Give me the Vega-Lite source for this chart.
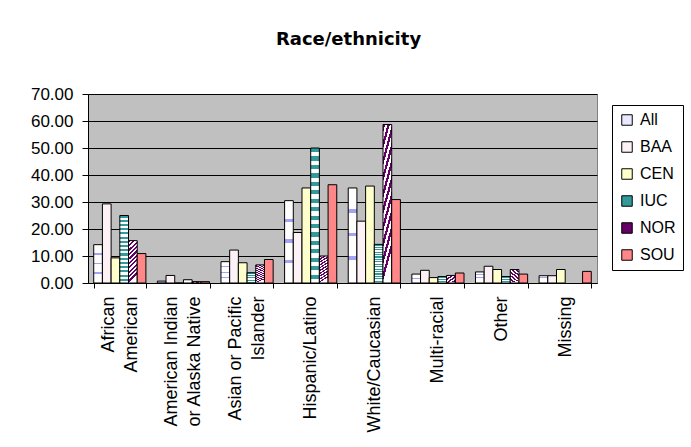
{
  "$schema": "https://vega.github.io/schema/vega-lite/v6.json",
  "width": 509,
  "height": 189,
  "autosize": "none",
  "padding": {"left": 88, "top": 94, "right": 94, "bottom": 164},
  "background": "white",
  "title": {
    "text": "Race/ethnicity",
    "font": "DejaVu Sans",
    "fontSize": 18,
    "fontWeight": "bold",
    "color": "black",
    "anchor": "middle",
    "frame": "group",
    "baseline": "alphabetic",
    "offset": 22,
    "dx": 6
  },
  "data": {
    "values": [
      {"group": "African American", "series": "All", "value": 14.2},
      {"group": "African American", "series": "BAA", "value": 29.3},
      {"group": "African American", "series": "CEN", "value": 9.3},
      {"group": "African American", "series": "IUC", "value": 25.0},
      {"group": "African American", "series": "NOR", "value": 15.7},
      {"group": "African American", "series": "SOU", "value": 10.9},
      {"group": "American Indian or Alaska Native", "series": "All", "value": 0.7},
      {"group": "American Indian or Alaska Native", "series": "BAA", "value": 2.8},
      {"group": "American Indian or Alaska Native", "series": "CEN", "value": 0.0},
      {"group": "American Indian or Alaska Native", "series": "IUC", "value": 1.2},
      {"group": "American Indian or Alaska Native", "series": "NOR", "value": 0.5},
      {"group": "American Indian or Alaska Native", "series": "SOU", "value": 0.5},
      {"group": "Asian or Pacific Islander", "series": "All", "value": 7.9},
      {"group": "Asian or Pacific Islander", "series": "BAA", "value": 12.2},
      {"group": "Asian or Pacific Islander", "series": "CEN", "value": 7.5},
      {"group": "Asian or Pacific Islander", "series": "IUC", "value": 3.8},
      {"group": "Asian or Pacific Islander", "series": "NOR", "value": 6.7},
      {"group": "Asian or Pacific Islander", "series": "SOU", "value": 8.7},
      {"group": "Hispanic/Latino", "series": "All", "value": 30.5},
      {"group": "Hispanic/Latino", "series": "BAA", "value": 18.7},
      {"group": "Hispanic/Latino", "series": "CEN", "value": 35.2},
      {"group": "Hispanic/Latino", "series": "IUC", "value": 50.0},
      {"group": "Hispanic/Latino", "series": "NOR", "value": 10.0},
      {"group": "Hispanic/Latino", "series": "SOU", "value": 36.4},
      {"group": "White/Caucasian", "series": "All", "value": 35.2},
      {"group": "White/Caucasian", "series": "BAA", "value": 22.9},
      {"group": "White/Caucasian", "series": "CEN", "value": 35.9},
      {"group": "White/Caucasian", "series": "IUC", "value": 14.3},
      {"group": "White/Caucasian", "series": "NOR", "value": 58.7},
      {"group": "White/Caucasian", "series": "SOU", "value": 30.9},
      {"group": "Multi-racial", "series": "All", "value": 3.3},
      {"group": "Multi-racial", "series": "BAA", "value": 4.7},
      {"group": "Multi-racial", "series": "CEN", "value": 2.0},
      {"group": "Multi-racial", "series": "IUC", "value": 2.4},
      {"group": "Multi-racial", "series": "NOR", "value": 2.8},
      {"group": "Multi-racial", "series": "SOU", "value": 3.7},
      {"group": "Other", "series": "All", "value": 4.1},
      {"group": "Other", "series": "BAA", "value": 6.2},
      {"group": "Other", "series": "CEN", "value": 5.0},
      {"group": "Other", "series": "IUC", "value": 2.4},
      {"group": "Other", "series": "NOR", "value": 5.0},
      {"group": "Other", "series": "SOU", "value": 3.3},
      {"group": "Missing", "series": "All", "value": 2.7},
      {"group": "Missing", "series": "BAA", "value": 2.7},
      {"group": "Missing", "series": "CEN", "value": 5.0},
      {"group": "Missing", "series": "SOU", "value": 4.3}
    ]
  },
  "mark": {"type": "bar", "stroke": "black", "strokeWidth": 1},
  "encoding": {
    "x": {
      "field": "group",
      "type": "nominal",
      "sort": ["African American", "American Indian or Alaska Native", "Asian or Pacific Islander", "Hispanic/Latino", "White/Caucasian", "Multi-racial", "Other", "Missing"],
      "scale": {"paddingInner": 0.18, "paddingOuter": 0.09},
      "axis": {
        "title": null,
        "labelAngle": -90,
        "labelFont": "Liberation Sans",
        "labelFontSize": 18,
        "labelColor": "black",
        "labelLineHeight": 23,
        "labelPadding": 8,
        "labelOffset": {
          "condition": {"test": "datum.value === 'African American' || datum.value === 'American Indian or Alaska Native' || datum.value === 'Asian or Pacific Islander'", "value": -11.5},
          "value": 0
        },
        "tickSize": 5,
        "tickColor": "black",
        "domainColor": "black",
        "tickBand": "extent",
        "labelExpr": "datum.value == 'African American' ? ['African  ', 'American'] : datum.value == 'American Indian or Alaska Native' ? ['American Indian', 'or Alaska Native'] : datum.value == 'Asian or Pacific Islander' ? ['Asian or Pacific', 'Islander      '] : datum.value"
      }
    },
    "xOffset": {
      "field": "series",
      "sort": ["All", "BAA", "CEN", "IUC", "NOR", "SOU"],
      "scale": {"paddingInner": 0, "paddingOuter": 0}
    },
    "y": {
      "field": "value",
      "type": "quantitative",
      "scale": {"domain": [0, 70]},
      "axis": {
        "title": null,
        "values": [0, 10, 20, 30, 40, 50, 60, 70],
        "format": ".2f",
        "labelFont": "Liberation Sans",
        "labelFontSize": 17,
        "labelColor": "black",
        "labelPadding": 9,
        "tickSize": 6,
        "tickColor": "black",
        "domainColor": "black",
        "gridColor": "black",
        "gridWidth": 1
      }
    },
    "fill": {
      "field": "series",
      "type": "nominal",
      "scale": {
        "domain": ["All", "BAA", "CEN", "IUC", "NOR", "SOU"],
        "range": ["#e8e8ff", "#fcf2f6", "#ffffcc", "#339999", "#660066", "#ff8787"]
      },
      "condition": [
        {"test": "datum.series === 'All'", "value": {"gradient": "linear", "x1": 0, "y1": 0, "x2": 0, "y2": 1, "stops": [
          {"offset": 0, "color": "#ffffff"}, {"offset": 0.22, "color": "#ffffff"},
          {"offset": 0.22, "color": "#a3a3f5"}, {"offset": 0.26, "color": "#a3a3f5"},
          {"offset": 0.26, "color": "#ffffff"}, {"offset": 0.47, "color": "#ffffff"},
          {"offset": 0.47, "color": "#a3a3f5"}, {"offset": 0.51, "color": "#a3a3f5"},
          {"offset": 0.51, "color": "#ffffff"}, {"offset": 0.72, "color": "#ffffff"},
          {"offset": 0.72, "color": "#a3a3f5"}, {"offset": 0.76, "color": "#a3a3f5"},
          {"offset": 0.76, "color": "#ffffff"}, {"offset": 1, "color": "#ffffff"}
        ]}},
        {"test": "datum.series === 'IUC'", "value": {"gradient": "linear", "x1": 0, "y1": 0, "x2": 0, "y2": 1, "stops": [
          {"offset": 0, "color": "#339999"}, {"offset": 0.03125, "color": "#339999"}, {"offset": 0.03125, "color": "#ffffff"}, {"offset": 0.0625, "color": "#ffffff"},
          {"offset": 0.0625, "color": "#339999"}, {"offset": 0.09375, "color": "#339999"}, {"offset": 0.09375, "color": "#ffffff"}, {"offset": 0.125, "color": "#ffffff"},
          {"offset": 0.125, "color": "#339999"}, {"offset": 0.15625, "color": "#339999"}, {"offset": 0.15625, "color": "#ffffff"}, {"offset": 0.1875, "color": "#ffffff"},
          {"offset": 0.1875, "color": "#339999"}, {"offset": 0.21875, "color": "#339999"}, {"offset": 0.21875, "color": "#ffffff"}, {"offset": 0.25, "color": "#ffffff"},
          {"offset": 0.25, "color": "#339999"}, {"offset": 0.28125, "color": "#339999"}, {"offset": 0.28125, "color": "#ffffff"}, {"offset": 0.3125, "color": "#ffffff"},
          {"offset": 0.3125, "color": "#339999"}, {"offset": 0.34375, "color": "#339999"}, {"offset": 0.34375, "color": "#ffffff"}, {"offset": 0.375, "color": "#ffffff"},
          {"offset": 0.375, "color": "#339999"}, {"offset": 0.40625, "color": "#339999"}, {"offset": 0.40625, "color": "#ffffff"}, {"offset": 0.4375, "color": "#ffffff"},
          {"offset": 0.4375, "color": "#339999"}, {"offset": 0.46875, "color": "#339999"}, {"offset": 0.46875, "color": "#ffffff"}, {"offset": 0.5, "color": "#ffffff"},
          {"offset": 0.5, "color": "#339999"}, {"offset": 0.53125, "color": "#339999"}, {"offset": 0.53125, "color": "#ffffff"}, {"offset": 0.5625, "color": "#ffffff"},
          {"offset": 0.5625, "color": "#339999"}, {"offset": 0.59375, "color": "#339999"}, {"offset": 0.59375, "color": "#ffffff"}, {"offset": 0.625, "color": "#ffffff"},
          {"offset": 0.625, "color": "#339999"}, {"offset": 0.65625, "color": "#339999"}, {"offset": 0.65625, "color": "#ffffff"}, {"offset": 0.6875, "color": "#ffffff"},
          {"offset": 0.6875, "color": "#339999"}, {"offset": 0.71875, "color": "#339999"}, {"offset": 0.71875, "color": "#ffffff"}, {"offset": 0.75, "color": "#ffffff"},
          {"offset": 0.75, "color": "#339999"}, {"offset": 0.78125, "color": "#339999"}, {"offset": 0.78125, "color": "#ffffff"}, {"offset": 0.8125, "color": "#ffffff"},
          {"offset": 0.8125, "color": "#339999"}, {"offset": 0.84375, "color": "#339999"}, {"offset": 0.84375, "color": "#ffffff"}, {"offset": 0.875, "color": "#ffffff"},
          {"offset": 0.875, "color": "#339999"}, {"offset": 0.90625, "color": "#339999"}, {"offset": 0.90625, "color": "#ffffff"}, {"offset": 0.9375, "color": "#ffffff"},
          {"offset": 0.9375, "color": "#339999"}, {"offset": 0.96875, "color": "#339999"}, {"offset": 0.96875, "color": "#ffffff"}, {"offset": 1, "color": "#ffffff"}
        ]}},
        {"test": "datum.series === 'NOR'", "value": {"gradient": "linear", "x1": 0, "y1": 0, "x2": 0.2, "y2": 1, "stops": [
          {"offset": 0, "color": "#660066"}, {"offset": 0.05, "color": "#660066"}, {"offset": 0.05, "color": "#ffffff"}, {"offset": 0.1, "color": "#ffffff"},
          {"offset": 0.1, "color": "#660066"}, {"offset": 0.15, "color": "#660066"}, {"offset": 0.15, "color": "#ffffff"}, {"offset": 0.2, "color": "#ffffff"},
          {"offset": 0.2, "color": "#660066"}, {"offset": 0.25, "color": "#660066"}, {"offset": 0.25, "color": "#ffffff"}, {"offset": 0.3, "color": "#ffffff"},
          {"offset": 0.3, "color": "#660066"}, {"offset": 0.35, "color": "#660066"}, {"offset": 0.35, "color": "#ffffff"}, {"offset": 0.4, "color": "#ffffff"},
          {"offset": 0.4, "color": "#660066"}, {"offset": 0.45, "color": "#660066"}, {"offset": 0.45, "color": "#ffffff"}, {"offset": 0.5, "color": "#ffffff"},
          {"offset": 0.5, "color": "#660066"}, {"offset": 0.55, "color": "#660066"}, {"offset": 0.55, "color": "#ffffff"}, {"offset": 0.6, "color": "#ffffff"},
          {"offset": 0.6, "color": "#660066"}, {"offset": 0.65, "color": "#660066"}, {"offset": 0.65, "color": "#ffffff"}, {"offset": 0.7, "color": "#ffffff"},
          {"offset": 0.7, "color": "#660066"}, {"offset": 0.75, "color": "#660066"}, {"offset": 0.75, "color": "#ffffff"}, {"offset": 0.8, "color": "#ffffff"},
          {"offset": 0.8, "color": "#660066"}, {"offset": 0.85, "color": "#660066"}, {"offset": 0.85, "color": "#ffffff"}, {"offset": 0.9, "color": "#ffffff"},
          {"offset": 0.9, "color": "#660066"}, {"offset": 0.95, "color": "#660066"}, {"offset": 0.95, "color": "#ffffff"}, {"offset": 1, "color": "#ffffff"}
        ]}}
      ],
      "legend": {
        "title": null,
        "orient": "none",
        "legendX": 524,
        "legendY": 11,
        "strokeColor": "black",
        "fillColor": "white",
        "padding": 7,
        "symbolType": "square",
        "symbolSize": 110,
        "symbolStrokeColor": "black",
        "symbolStrokeWidth": 1,
        "symbolOpacity": 1,
        "labelFont": "Liberation Sans",
        "labelFontSize": 16,
        "labelColor": "black",
        "labelOffset": 5,
        "rowPadding": 11
      }
    }
  },
  "config": {
    "view": {"fill": "#c0c0c0", "stroke": "#808080", "strokeWidth": 1}
  }
}
